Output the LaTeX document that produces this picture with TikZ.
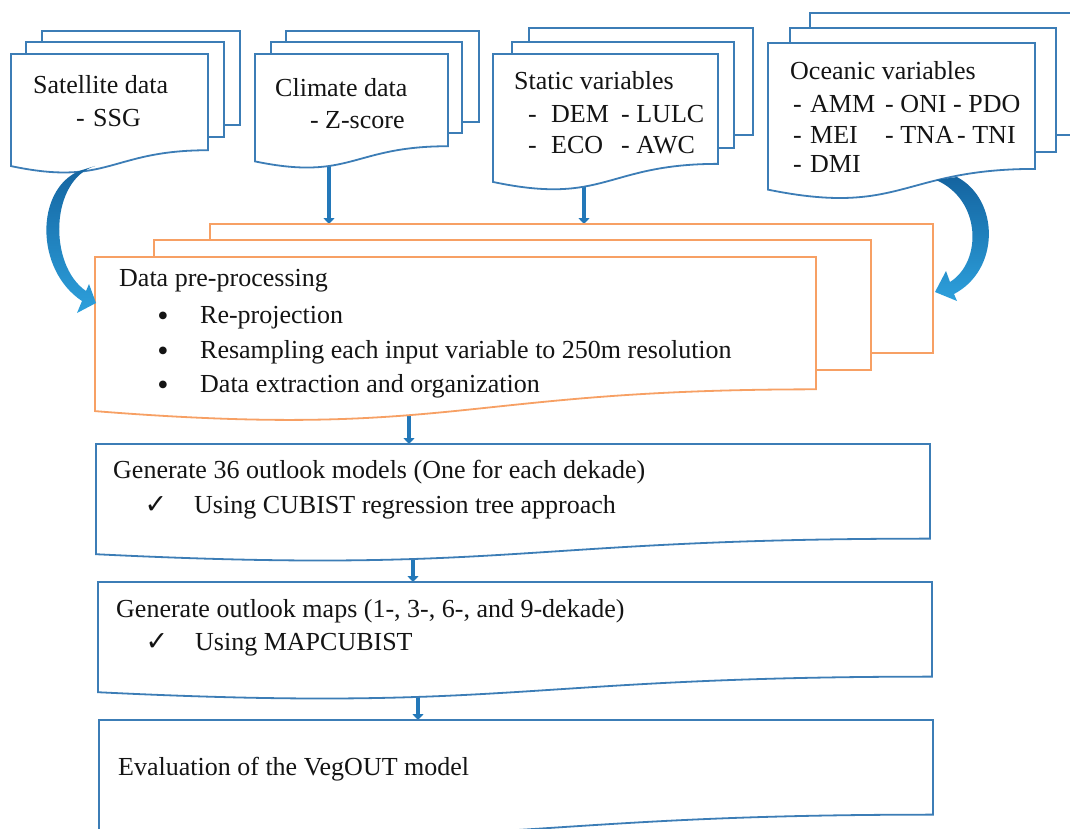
\documentclass[tikz,border=0pt]{standalone}
\usepackage{fontspec}
\setmainfont{Liberation Serif}
\newfontfamily\symfont{DejaVu Sans}
\usetikzlibrary{arrows.meta}
\definecolor{boxblue}{RGB}{60,125,182}
\definecolor{linkblue}{RGB}{35,120,185}
\definecolor{arrdark}{RGB}{20,100,160}
\definecolor{arrlight}{RGB}{45,160,220}
\definecolor{boxorange}{RGB}{247,160,100}
\definecolor{txtcol}{RGB}{20,20,20}
\newcommand{\docshape}[5]{%
  \path[#1] (#2,#3) -- (#4,#3) -- (#4,{#3+0.802*#5})
    .. controls ({(#2+#4)/2},{#3+0.802*#5}) and ({(#2+#4)/2},{#3+1.1075*#5}) ..
    (#2,{#3+0.934*#5}) -- cycle;}
\tikzset{
  layer/.style={draw=boxblue, line width=1.8, fill=white},
  olayer/.style={draw=boxorange, line width=1.8, fill=white},
  txt/.style={anchor=base west, inner sep=0, text=txtcol, font=\fontsize{26}{30}\selectfont},
  bulletmark/.style={anchor=base, inner sep=0, text=txtcol, font=\fontsize{32}{36}\selectfont},
  checkmark/.style={anchor=base, inner sep=0, text=txtcol, font=\symfont\fontsize{27}{30}\selectfont},
  link/.style={draw=linkblue, line width=4, -{Triangle[length=6,width=11]}},
  bigarrow/.style={top color=arrdark, bottom color=arrlight, draw=none},
}
\begin{document}
\begin{tikzpicture}[x=1pt,y=-1pt]
\useasboundingbox (0,0) rectangle (1070,829);
\clip (0,0) rectangle (1070,829);
\fill[white] (0,0) rectangle (1070,829);

% straight connectors (drawn first, boxes cover their starts)
\coordinate (climOut) at (329,155);
\coordinate (preTopA) at (329,224);
\coordinate (statOut) at (584,175);
\coordinate (preTopB) at (584,224);
\coordinate (preOut) at (409,405);
\coordinate (genTop) at (409,444);
\coordinate (genOut) at (413,550);
\coordinate (mapTop) at (413,582);
\coordinate (mapOut) at (418,688);
\coordinate (evalTop) at (418,720);
\draw[link] (climOut) -- (preTopA);
\draw[link] (statOut) -- (preTopB);
\draw[link] (preOut) -- (genTop);
\draw[link] (genOut) -- (mapTop);
\draw[link] (mapOut) -- (evalTop);

% Satellite stack
\path[layer] (42,31) rectangle (240,125);
\path[layer] (26,42) rectangle (224,137);
\docshape{layer}{11}{54}{208}{120}
% Climate stack
\path[layer] (286,31) rectangle (479,122);
\path[layer] (271,42) rectangle (462,133);
\docshape{layer}{255}{54}{448}{115}
% Static stack
\path[layer] (529,28) rectangle (753,135);
\path[layer] (512,42) rectangle (734,148);
\docshape{layer}{493}{54}{718}{137}
% Oceanic stack
\path[layer] (810,13) rectangle (1090,135);
\path[layer] (790,28) rectangle (1056,152);
\docshape{layer}{768}{43}{1035}{157}
% Pre-processing stack
\path[olayer] (210,224) rectangle (933,353);
\path[olayer] (154,240) rectangle (871,370);
\docshape{olayer}{95}{257}{816}{165}
% Lower boxes
\docshape{layer}{96}{444}{930}{118}
\docshape{layer}{98}{582}{932}{118}
\docshape{layer}{99}{720}{933}{118}

% Texts
\node[txt] (sat1) at (33,94) {Satellite data};
\node[txt] (sat2) at (76,127) {\makebox[17pt][l]{-}SSG};
\node[txt] (cli1) at (275,97) {Climate data};
\node[txt] (cli2) at (310,129) {\makebox[15pt][l]{-}Z-score};
\node[txt] (sta1) at (514,90) {Static variables};
\node[txt] (sta2) at (528,123) {\makebox[23pt][l]{-}\makebox[70pt][l]{DEM}- LULC};
\node[txt] (sta3) at (528,154) {\makebox[23pt][l]{-}\makebox[70pt][l]{ECO}- AWC};
\node[txt] (oce1) at (790,80) {Oceanic variables};
\node[txt] (oce2) at (793,113) {\makebox[17pt][l]{-}\makebox[75pt][l]{AMM}\makebox[68pt][l]{- ONI}- PDO};
\node[txt] (oce3) at (793,144) {\makebox[17pt][l]{-}\makebox[75pt][l]{MEI}\makebox[72pt][l]{- TNA}- TNI};
\node[txt] (oce4) at (793,173) {\makebox[17pt][l]{-}DMI};

\node[txt] (pre0) at (119,286) {Data pre-processing};
\node[bulletmark] (pb1) at (163,326) {•};
\node[txt] (pre1) at (200,323) {Re-projection};
\node[bulletmark] (pb2) at (163,361) {•};
\node[txt] (pre2) at (200,358) {Resampling each input variable to 250m resolution};
\node[bulletmark] (pb3) at (163,395) {•};
\node[txt] (pre3) at (200,392) {Data extraction and organization};

\node[txt] (gen1) at (113,478) {Generate 36 outlook models (One for each dekade)};
\node[checkmark] (gc) at (156,513) {✓};
\node[txt] (gen2) at (194,513) {Using CUBIST regression tree approach};
\node[txt] (map1) at (116,617) {Generate outlook maps (1-, 3-, 6-, and 9-dekade)};
\node[checkmark] (mc) at (157,650) {✓};
\node[txt] (map2) at (195,650) {Using MAPCUBIST};
\node[txt] (eva1) at (118,775) {Evaluation of the VegOUT model};

% curved block arrows
\shade[bigarrow] (79,171) -- (95,166) .. controls (50,180) and (48,265) .. (86,291)
  -- (89,284) -- (96,303) -- (77,313) -- (82,301)
  .. controls (35,270) and (35,190) .. (79,171) -- cycle;
\shade[bigarrow] (936,180) -- (957,177) .. controls (1000,200) and (1000,270) .. (954,294)
  -- (957,301) -- (935,292) -- (946,271) -- (950,282)
  .. controls (982,262) and (982,200) .. (936,180) -- cycle;
\end{tikzpicture}
\end{document}
